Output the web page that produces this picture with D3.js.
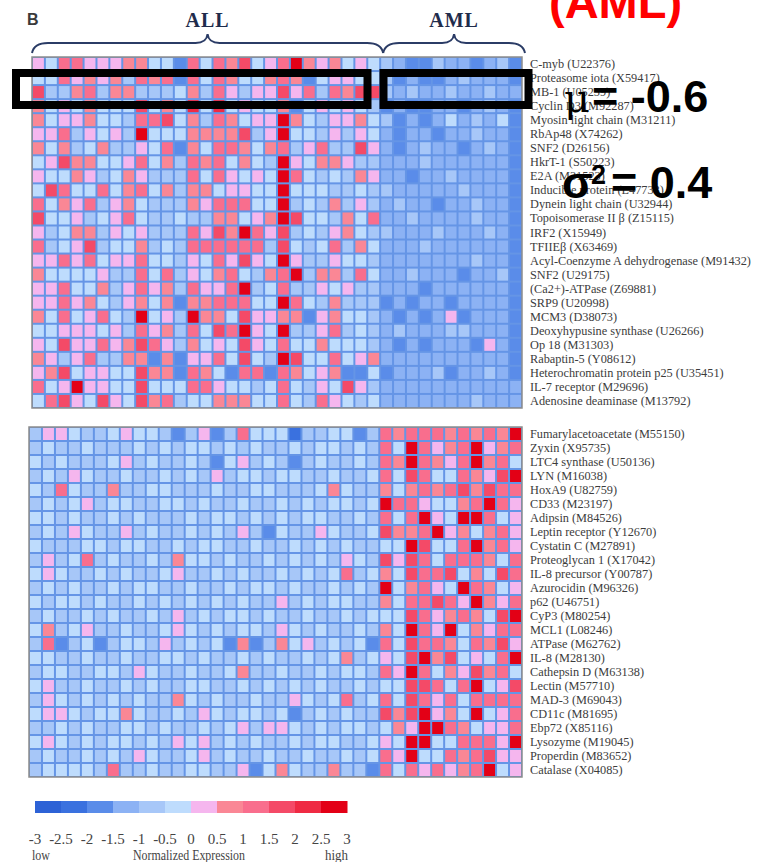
<!DOCTYPE html>
<html><head><meta charset="utf-8">
<script src="https://cdn.jsdelivr.net/npm/d3@7"></script>
<style>body{margin:0;background:#fff}svg{display:block}</style>
</head><body>
<script>
// ---------- DATA ----------
const groupNames = ["ALL", "AML"];
const groupSizes = [27, 11];

const topGenes = ["C-myb (U22376)","Proteasome iota (X59417)","MB-1 (U05259)","Cyclin D3 (M92287)","Myosin light chain (M31211)","RbAp48 (X74262)","SNF2 (D26156)","HkrT-1 (S50223)","E2A (M31523)","Inducible protein (L47738)","Dynein light chain (U32944)","Topoisomerase II \u03B2 (Z15115)","IRF2 (X15949)","TFIIE\u03B2 (X63469)","Acyl-Coenzyme A dehydrogenase (M91432)","SNF2 (U29175)","(Ca2+)-ATPase (Z69881)","SRP9 (U20998)","MCM3 (D38073)","Deoxyhypusine synthase (U26266)","Op 18 (M31303)","Rabaptin-5 (Y08612)","Heterochromatin protein p25 (U35451)","IL-7 receptor (M29696)","Adenosine deaminase (M13792)"];

const bottomGenes = ["Fumarylacetoacetate (M55150)","Zyxin (X95735)","LTC4 synthase (U50136)","LYN (M16038)","HoxA9 (U82759)","CD33 (M23197)","Adipsin (M84526)","Leptin receptor (Y12670)","Cystatin C (M27891)","Proteoglycan 1 (X17042)","IL-8 precursor (Y00787)","Azurocidin (M96326)","p62 (U46751)","CyP3 (M80254)","MCL1 (L08246)","ATPase (M62762)","IL-8 (M28130)","Cathepsin D (M63138)","Lectin (M57710)","MAD-3 (M69043)","CD11c (M81695)","Ebp72 (X85116)","Lysozyme (M19045)","Properdin (M83652)","Catalase (X04085)"];

const topValues = [
[0.3,-0.3,1.3,1.3,0.3,0.3,0.3,0.8,0.8,-0.3,-0.3,-1.8,1.3,-0.3,1.3,0.8,1.8,-0.3,0.3,1.3,2.8,0.8,0.3,0.8,-0.3,0.3,-0.3,-0.8,-1.2,-1.8,-1.8,-0.8,-1.2,-1.2,-1.8,-1.2,-0.8,-1.8],
[-0.3,-0.3,1.3,0.3,0.8,0.3,0.8,-0.8,1.3,0.8,1.3,-1.8,1.3,-0.3,1.3,0.8,-0.3,-0.3,0.8,1.3,0.8,-1.8,-0.3,0.3,0.3,-0.3,-0.3,-0.8,-1.8,-1.2,-1.8,-1.8,-1.2,-0.8,-1.2,-1.2,-1.2,-1.8],
[1.8,-0.8,-0.8,0.8,1.3,-0.8,0.8,0.8,-0.8,-0.8,-0.8,-0.3,0.8,-0.8,1.3,0.3,-0.8,0.3,0.3,1.8,0.3,1.3,-0.8,1.3,0.8,1.8,1.8,-0.8,-1.2,-0.8,-1.2,-1.2,-0.8,-1.2,-1.2,-0.8,-1.2,-1.2],
[0.8,-0.3,0.3,-0.3,0.8,-0.3,-0.3,-0.3,1.8,-0.3,0.8,-0.3,2.3,-0.3,2.3,-0.3,0.3,-0.3,-0.3,0.8,-1.8,-0.3,0.3,-0.3,0.3,-0.3,-0.8,-1.8,-1.2,-1.8,-1.8,-1.2,-1.2,-1.8,-1.2,-0.8,-1.2,-1.8],
[0.8,-0.3,0.3,0.3,0.8,-0.3,-0.3,-0.8,1.3,1.3,1.8,-0.3,0.8,-0.8,1.3,0.8,-0.3,0.3,0.3,2.8,0.8,-0.3,-0.8,0.3,0.3,0.8,-0.3,-0.8,-1.8,-1.2,-1.8,-1.2,-0.3,-1.2,-0.8,-1.2,-0.3,-1.8],
[0.3,0.3,1.3,-0.8,0.3,-0.3,0.3,-0.8,2.8,-0.3,-0.3,-0.3,0.8,0.8,0.8,0.8,1.8,-0.8,0.3,2.8,-0.3,-0.3,-0.8,0.3,-0.8,0.3,-0.3,-1.2,-1.8,-1.2,-1.2,-1.8,-1.2,-1.2,-0.8,-1.2,-1.2,-1.8],
[0.8,-0.3,0.8,-0.8,-0.3,0.8,-0.8,-0.8,0.3,-0.3,1.3,-1.8,0.8,-0.3,1.3,1.3,0.8,-0.3,0.8,1.3,-0.8,0.3,1.3,-0.8,-0.8,1.8,0.3,-1.2,-1.8,-1.2,-0.8,-1.2,-1.2,-1.8,-1.2,-0.8,-1.2,-1.8],
[-0.3,0.3,1.8,0.8,0.8,-0.3,-0.3,0.3,1.3,-0.3,0.8,-0.8,1.3,0.8,1.3,-0.3,0.8,-0.3,-0.8,2.8,0.3,-0.3,0.8,0.8,0.3,-0.8,-0.8,-1.2,-1.2,-1.2,-0.8,-1.2,-1.2,-1.2,-1.2,-1.2,-1.2,-1.8],
[0.3,-0.3,-0.3,0.8,0.3,-0.8,-0.3,0.8,0.3,-0.8,-0.8,-0.8,1.3,-0.3,1.3,0.3,-0.3,0.3,-0.3,2.8,1.3,-0.3,-0.8,-0.3,-0.8,0.8,0.3,-1.2,-1.2,-1.8,-1.2,-1.2,-0.8,-1.2,-1.2,-1.2,-1.2,-1.8],
[-0.3,1.8,1.3,-0.3,-0.3,1.3,-0.3,0.8,1.3,-0.3,0.8,-0.8,0.8,0.8,-0.3,0.3,0.3,-0.3,-0.3,2.8,-0.3,-0.3,-0.3,-0.8,-0.8,-0.3,-0.8,-0.8,-1.2,-1.2,-1.2,-1.2,-1.2,-0.8,-1.2,-1.2,-1.2,-1.8],
[1.3,-0.3,0.8,0.3,1.3,-0.8,0.3,0.8,-0.3,-0.8,-0.8,-0.8,0.8,0.3,1.3,1.3,1.3,-0.3,-0.3,2.8,-0.8,-0.3,-0.8,0.8,-0.8,0.3,-0.8,-1.2,-0.8,-1.2,-1.2,-1.8,-1.2,-1.2,-0.8,-1.2,-1.2,-1.8],
[1.8,-0.3,-0.3,0.3,-0.8,-0.3,0.3,1.3,-0.3,-0.8,-0.8,-0.3,-0.8,-0.8,0.8,0.8,-0.3,0.3,0.8,2.8,1.8,-0.3,-0.3,-0.8,0.8,-0.3,1.3,-1.2,-1.2,-0.8,-1.2,-1.2,-1.2,-1.2,-0.8,-1.2,-1.2,-1.8],
[0.3,-0.8,-0.3,0.8,0.8,-0.8,0.3,-0.3,0.3,-0.8,-0.8,-0.8,1.3,0.3,1.8,0.8,2.8,1.3,0.3,1.8,-0.8,-0.3,-0.8,0.3,0.8,-0.3,-0.8,-0.8,-1.2,-1.2,-1.2,-0.8,-1.2,-1.2,-1.2,-0.8,-1.2,-1.8],
[1.3,-0.8,-0.3,0.3,1.8,-0.8,-0.3,-0.3,0.8,-0.8,-0.3,-0.8,1.3,1.3,1.3,1.3,1.3,1.3,-0.8,1.8,-0.3,-0.8,-0.3,1.3,-0.8,0.8,-0.3,-1.2,-1.2,-1.2,-0.8,-1.2,-1.2,-1.2,-1.2,-1.2,-1.2,-1.8],
[0.3,0.3,1.3,0.3,1.3,-0.3,0.3,0.3,1.3,-0.3,-0.3,-0.8,0.3,-0.3,1.3,0.3,1.8,0.3,-0.3,2.8,0.3,-0.8,-0.8,0.3,-0.3,-0.3,-0.8,-1.2,-1.2,-1.2,-1.2,-1.2,-1.2,-1.2,-0.8,-1.2,-1.2,-1.8],
[0.8,-0.3,-0.3,-0.3,-0.3,0.3,-0.8,-0.8,1.3,-0.3,1.3,-0.8,0.3,-0.3,0.8,1.3,-0.3,-0.8,0.8,1.3,2.8,-0.8,0.8,0.8,-0.8,1.3,-0.3,-1.2,-1.2,-0.8,-1.2,-1.2,-1.2,-1.8,-1.2,-1.2,-0.8,-1.8],
[0.3,0.3,1.3,-0.3,-0.3,0.8,-0.8,0.3,1.3,0.3,0.8,-0.8,1.3,0.3,0.3,1.3,2.8,-0.8,-0.3,1.3,-0.8,-0.8,0.3,-0.3,0.3,-0.8,-0.8,-1.2,-1.2,-1.2,-1.8,-1.2,-1.2,-1.2,-1.2,-1.2,-1.2,-1.8],
[0.3,0.3,1.3,0.3,0.8,-0.3,-0.8,0.3,0.8,-0.3,0.8,-1.8,0.8,0.8,1.3,1.3,1.3,-0.3,-0.3,2.8,1.3,-0.3,-0.8,0.8,-0.8,-0.8,-0.8,-1.8,-1.2,-1.8,-1.2,-1.2,-1.8,-1.2,-1.2,-1.2,-1.2,-1.8],
[0.8,-0.3,1.3,-0.3,0.3,1.3,-0.3,-0.8,2.8,-0.3,0.3,-0.8,2.8,0.8,0.8,-0.3,1.8,0.3,0.3,0.8,0.8,-1.8,0.3,0.8,-0.3,-0.3,-0.8,-1.2,-1.8,-1.2,-1.8,-1.2,0.3,-1.8,-1.2,-1.2,-1.2,-1.8],
[-0.3,-0.3,0.3,0.3,0.3,-0.3,0.3,-0.8,1.3,0.3,0.8,-0.8,1.3,-0.3,1.8,1.3,2.8,0.3,-0.3,2.8,-0.8,-0.8,0.3,1.3,-0.8,-0.3,-0.8,-1.2,-0.8,-1.2,-1.2,-1.2,-0.8,-0.8,-1.2,-1.2,-1.2,-1.8],
[0.3,-0.3,1.8,0.3,0.3,1.3,0.3,0.8,1.8,1.3,0.3,-0.8,0.8,-0.3,0.3,-0.3,1.8,0.3,-0.3,1.3,-0.3,-0.3,0.8,-0.3,-0.3,-0.3,-0.8,-1.2,-1.8,-1.2,-1.8,-1.2,-1.2,-1.2,-1.8,0.3,-1.2,-1.8],
[0.8,0.3,-0.8,0.3,1.3,-0.8,-0.8,0.8,0.8,-1.8,0.8,-1.8,0.3,0.3,1.3,-0.3,1.8,-0.3,-0.8,2.8,1.8,-0.3,-0.3,1.3,-0.3,0.3,0.8,-1.2,-1.2,-1.2,-1.2,-1.2,-1.2,-1.2,-1.2,-1.2,-1.2,-1.8],
[0.3,0.8,1.8,-0.3,0.3,0.3,-0.3,-0.3,1.8,0.8,0.8,-1.8,1.3,0.8,-0.3,-1.8,1.3,1.3,-1.8,1.3,0.8,-0.3,0.3,0.8,-1.8,-1.8,-0.3,-1.8,-1.2,-1.2,-1.2,-0.8,-1.8,-1.2,-1.2,-0.8,-1.2,-1.8],
[1.3,-0.3,0.3,2.8,0.3,0.3,-0.3,-0.3,1.8,-0.3,-0.3,-0.3,1.3,1.3,0.3,-0.3,-0.3,-0.8,-0.3,1.3,-0.3,-0.8,0.3,-0.3,1.8,0.3,-0.8,-1.2,-1.2,-1.2,-1.2,-1.2,-1.2,-1.2,-1.2,-1.2,-1.2,-1.2],
[-0.3,1.3,1.8,0.3,-0.3,1.8,0.3,-0.3,1.8,0.8,1.3,-0.8,-0.3,-0.3,0.8,0.8,0.8,-0.3,-0.3,1.3,-0.3,-0.8,1.3,0.3,-0.3,-0.8,-0.3,-1.2,-1.2,-1.2,-1.2,-1.2,-1.2,-1.2,-0.8,-1.2,-1.2,-1.2]
];

const bottomValues = [
[-0.8,0.3,0.3,-0.3,-0.8,-0.8,-0.3,0.3,-0.3,-0.3,-0.8,-1.8,-0.8,0.3,-1.8,-0.8,1.3,-0.3,-0.3,-0.3,-2.3,-0.8,-0.8,-0.3,-0.3,-1.8,-0.8,1.3,0.8,1.3,1.3,1.3,0.8,1.3,0.8,1.3,0.8,2.8],
[-0.8,-0.3,-0.8,-0.8,-0.3,-0.8,-0.8,-0.8,-0.3,-0.8,-0.3,-0.8,-0.3,-0.3,-0.8,-0.3,-0.8,-0.3,-0.8,-0.8,-0.3,-0.8,-0.3,-0.3,-0.8,-0.3,-0.8,1.3,-0.3,2.8,1.3,0.3,0.8,1.3,2.8,0.3,0.8,1.3],
[-0.3,-0.8,-0.3,-0.8,-0.8,-0.8,-0.3,0.3,-0.8,-0.3,-0.8,-0.8,-0.3,-0.8,-1.8,-0.3,0.3,-0.8,-0.3,-0.8,-1.8,-0.8,-0.3,-0.8,-0.8,-0.3,-0.8,1.3,0.8,2.8,1.3,0.8,0.3,1.3,2.8,0.8,1.3,-0.3],
[-0.8,-0.3,-0.8,0.3,-0.3,-0.8,-0.8,-0.3,-0.8,-0.8,-0.3,-0.8,-0.3,-0.8,0.3,-0.8,-0.3,-0.3,-0.8,-0.3,-0.3,-0.8,-0.8,-0.3,-0.8,-0.8,-0.3,1.3,-0.3,1.8,1.3,-0.3,-0.3,1.3,0.8,0.3,1.8,2.8],
[-0.3,-0.8,1.3,-0.3,-0.8,-0.8,0.8,-0.8,-0.8,-0.3,-0.3,-0.8,-0.8,-0.8,-0.3,-0.8,-0.8,-0.3,-0.3,-0.8,-0.8,-0.8,-0.3,0.8,-0.3,-0.8,-0.8,0.8,-0.3,0.8,1.3,0.8,1.3,1.8,0.8,1.8,1.3,1.3],
[-0.8,-0.3,-0.8,-0.3,0.3,-0.8,-0.3,-0.3,-0.8,-0.8,-0.3,-0.3,-0.8,-0.3,-0.8,-0.8,-0.3,-0.8,-0.8,-0.3,-0.8,-0.3,-0.8,-0.3,-0.3,-0.8,-0.3,2.8,1.3,1.3,0.3,-0.3,-0.3,0.8,1.3,2.8,1.3,0.3],
[-0.3,-0.3,-0.8,-0.3,-0.8,-0.8,-0.3,-0.8,-0.3,-0.8,-0.8,-0.8,-0.3,-0.8,-0.3,-0.3,-0.8,-0.3,-0.8,-0.3,-0.8,-0.3,-0.3,-0.8,-0.8,-0.3,-0.8,1.3,-0.3,1.3,2.8,0.3,-0.3,2.8,2.8,1.3,-0.3,0.3],
[-0.8,-0.3,-0.8,0.3,-0.3,-0.8,-0.8,0.3,-0.8,-0.3,-0.8,-0.8,-0.3,-0.8,-0.3,-0.8,0.3,-0.8,-1.8,-0.3,-0.8,-0.8,0.3,-0.3,-0.8,-0.8,-0.3,1.8,0.8,0.8,1.3,2.8,0.3,0.8,-0.3,0.8,1.3,0.3],
[-0.3,-0.8,-0.8,-0.8,-0.3,-0.3,-0.8,-0.3,-0.3,-0.8,-0.8,-0.3,-0.8,-0.3,-0.3,-0.8,-0.8,-0.3,-0.8,-0.8,-0.3,-0.8,-0.3,-0.8,-0.3,-0.8,-0.8,-0.3,-0.3,2.8,1.8,-0.3,-0.3,1.3,2.8,0.8,1.3,0.3],
[-0.8,0.3,-0.8,-0.3,1.3,-0.8,-0.3,-0.8,-0.8,-0.3,-0.8,0.8,-0.3,-0.3,-0.8,-0.3,-0.8,-0.8,-0.3,-0.8,-0.3,-0.8,-0.3,-0.8,0.3,-0.3,-0.8,1.8,0.3,1.8,1.3,-0.3,1.3,1.3,1.3,0.8,-0.3,1.3],
[-0.3,0.3,-0.3,-0.8,-0.8,-0.3,-0.8,-0.3,-0.8,-0.8,-0.3,0.3,-0.8,-0.8,-0.3,-0.8,-0.3,-0.8,-0.8,-0.3,-0.8,-0.3,-0.8,-0.3,1.3,-0.8,-0.3,0.8,-0.3,1.8,1.3,1.3,1.8,-0.3,0.8,-0.3,1.8,1.3],
[-0.8,-0.3,-0.8,-0.3,-0.8,-0.8,-0.3,-0.8,-0.3,-0.3,-0.8,-0.8,-0.3,-0.8,-0.8,-0.3,-0.8,-0.3,-0.3,-0.8,-0.3,-0.8,-0.8,-0.3,-0.8,-0.3,-0.8,2.8,-0.3,0.8,1.3,0.3,-0.3,2.8,1.3,0.8,-0.3,0.3],
[-0.3,-0.8,-0.3,-0.3,-0.8,-0.3,-0.8,-0.8,-0.3,-0.8,-0.3,-0.8,-0.3,-0.8,-0.3,-0.8,-0.3,-0.8,-0.8,0.3,-0.8,-0.3,-0.8,-0.3,-0.3,-0.8,-0.8,0.8,-0.3,1.3,1.3,1.8,1.3,0.3,2.8,0.8,0.3,1.3],
[-0.8,-0.3,-0.8,-0.8,-0.3,-0.8,-0.3,-0.8,-0.8,-0.3,-0.8,0.3,-0.8,-0.3,-0.8,-0.3,-0.3,-0.8,-0.3,-0.8,-0.8,-0.3,-0.8,-0.8,-0.3,-0.8,-0.3,-0.3,-0.3,1.8,1.3,0.3,0.8,1.3,0.8,-0.3,1.8,2.8],
[-0.3,0.8,-0.8,-0.3,0.3,-0.8,-0.8,-0.3,-0.8,-0.8,-0.3,0.3,-0.3,-0.8,-0.3,-0.8,-0.3,-0.3,-0.8,0.3,-0.3,-0.8,-0.3,-0.8,-0.8,-0.3,-0.8,0.8,-0.3,2.8,1.3,0.3,2.8,-0.3,0.8,0.3,1.3,1.3],
[-0.8,1.3,-1.8,-0.8,-0.3,-1.8,-0.8,-0.3,-0.3,-0.8,0.3,-0.8,-0.3,-0.8,-0.3,-1.8,0.8,-1.8,-0.8,0.8,-0.3,0.3,-0.8,-0.3,-0.8,-0.3,-1.8,1.3,-0.3,1.8,1.3,1.3,0.8,-0.3,1.3,0.8,1.8,0.3],
[-0.3,-0.3,-0.8,-0.8,-0.3,-0.8,-0.8,-0.3,-0.8,-0.8,-0.3,-0.3,-0.8,-0.3,-0.8,-0.8,-0.3,-0.8,-0.3,-0.8,-0.8,-0.3,-0.8,-0.3,0.8,-0.8,-0.3,0.3,-0.3,1.8,2.8,0.8,1.8,-0.3,0.3,-0.3,1.3,2.8],
[-0.8,-0.3,-0.3,-0.8,-0.8,-0.3,-0.3,-0.8,0.3,-0.3,-0.8,-0.8,-0.3,-0.8,-0.8,-0.3,0.8,-0.8,-0.8,-0.3,-0.8,-0.8,-0.3,-0.8,-0.3,-0.3,-0.8,1.3,0.3,2.8,1.3,-0.3,0.8,0.3,1.8,0.8,1.3,-0.3],
[-0.3,0.3,-0.8,-0.8,-0.3,-0.8,-0.8,-0.3,-0.8,-0.3,-0.8,-0.8,-0.3,-0.3,-0.8,-0.8,-0.3,-0.8,-0.3,-0.8,-0.3,-0.8,-0.3,-0.8,-0.8,-0.3,-0.8,-0.3,-0.3,1.8,1.8,1.3,-0.3,1.3,2.8,-0.3,0.3,1.8],
[-0.8,0.3,-0.3,-0.8,-0.3,-0.8,-0.3,-0.8,-0.3,-0.8,-0.8,0.8,-0.3,-0.8,-0.3,-0.8,-0.8,-0.3,-0.8,-0.8,0.3,-0.3,-0.8,-0.3,1.3,-0.8,-0.3,1.3,-0.3,1.8,1.3,0.3,1.3,-0.3,1.3,1.3,1.3,1.3],
[-0.3,0.3,0.3,-0.3,-0.8,-0.3,-0.3,0.8,-0.3,-0.8,-0.8,-0.3,-0.8,0.3,-0.3,-0.8,-0.3,-0.3,-0.8,-0.3,-1.8,-0.8,-0.3,-0.8,-0.3,-0.8,-0.8,1.8,0.8,1.8,2.8,0.3,0.8,-0.3,2.8,-0.3,0.3,1.3],
[-0.8,-0.8,-0.3,-0.8,-0.3,-0.8,-0.8,-0.3,-0.3,-0.8,-0.3,-0.8,-0.8,-0.3,-0.8,-0.3,0.3,-0.8,0.3,0.3,-0.3,-0.8,-0.3,-0.8,-0.3,-0.3,-0.8,-0.3,0.8,0.3,2.8,2.8,1.3,0.8,-0.3,0.3,0.3,1.3],
[-0.3,0.3,-0.3,-0.8,-0.3,-0.8,-0.3,-0.3,-0.8,-0.3,-0.8,0.3,-0.3,0.3,-0.8,-0.3,-0.8,-0.3,-0.8,-0.8,-0.3,-0.8,-0.3,-0.3,-0.8,-0.8,-0.3,0.3,-0.3,2.8,2.8,-0.3,-0.3,1.3,1.3,1.3,0.3,2.8],
[-0.8,-0.3,-0.8,-0.8,-0.3,-0.8,-0.3,-0.8,0.3,-0.3,-0.8,-0.8,-0.3,0.3,-0.8,-0.3,-0.8,-0.8,-0.3,-0.8,-0.8,-0.3,-0.8,-0.8,-0.3,-0.8,-0.3,1.3,0.3,2.8,-0.3,-0.3,1.3,0.8,1.3,1.8,0.3,0.3],
[-0.8,-0.3,-0.3,-0.3,-0.3,-0.8,1.3,-0.8,-0.8,-0.3,-0.8,-0.8,-0.3,-0.3,-0.8,-0.8,0.3,-1.8,-0.3,0.8,-0.3,-0.8,-0.8,0.8,-0.8,-0.8,-1.8,1.3,-0.3,1.3,0.3,1.3,0.3,0.8,1.3,2.8,-0.3,0.3]
];

const legendTicks = [-3,-2.5,-2,-1.5,-1,-0.5,0,0.5,1,1.5,2,2.5,3];
const legendTickLabels = ["-3","-2.5","-2","-1.5","-1","-0.5","0","0.5","1","1.5","2","2.5","3"];
const binColors = ["#2d62d6","#3a71df","#5a8ce9","#8cb2f4","#a7c7f8","#bedcfd","#f5b6ee","#fa8795","#f96e8d","#f44a67","#ef2a43","#e30016"];
const legendTitle = "Normalized Expression";
const legendLow = "low", legendHigh = "high";
const panelLetter = "B";
const annMean = "= -0.6", annVar = "= 0.4", annTop = "(AML)";

// ---------- LAYOUT ----------
const W = 771, H = 862;
const nCols = d3.sum(groupSizes);
const svg = d3.select("body").append("svg").attr("width", W).attr("height", H);

const color = d3.scaleThreshold().domain(legendTicks.slice(1, -1)).range(binColors);

function panel(values, genes, x0, x1, y0, y1) {
  const x = d3.scaleBand().domain(d3.range(nCols)).range([x0, x1]).padding(0);
  const y = d3.scaleBand().domain(d3.range(genes.length)).range([y0, y1]).padding(0);
  const g = svg.append("g");
  g.append("rect").attr("x", x0).attr("y", y0).attr("width", x1 - x0).attr("height", y1 - y0)
    .attr("fill", "#6595e6");
  values.forEach((row, r) => {
    g.selectAll(null).data(row).enter().append("rect")
      .attr("x", (d, c) => x(c) + 1)
      .attr("y", y(r) + 1)
      .attr("width", x.bandwidth() - 2)
      .attr("height", y.bandwidth() - 2)
      .attr("fill", d => color(d));
  });
  g.append("rect").attr("x", x0).attr("y", y0).attr("width", x1 - x0).attr("height", y1 - y0)
    .attr("fill", "none").attr("stroke", "#8c8c8c").attr("stroke-width", 1.5);
  g.selectAll("text.gene").data(genes).enter().append("text").attr("class", "gene")
    .attr("x", 530).attr("y", (d, i) => y(i) + y.bandwidth() / 2 + 4)
    .attr("font-family", "Liberation Serif, Times New Roman, serif")
    .attr("font-size", 12.3).attr("fill", "#3c3c3c").text(d => d);
  return { x, y };
}

const topPanel = panel(topValues, topGenes, 32, 522, 57, 408);
panel(bottomValues, bottomGenes, 29, 522, 427, 777);

// braces + group labels
const starts = [0, groupSizes[0]];
groupNames.forEach((name, i) => {
  const a = topPanel.x(starts[i]) + (i === 0 ? 0 : 3);
  const b = i === 0 ? topPanel.x(groupSizes[0]) + 3 : 525;
  const m = (a + b) / 2;
  const yb = 53, yh = 43, yt = 34;
  const p = `M${a},${yb} Q${a + 2},${yh} ${a + 16},${yh} L${m - 12},${yh} Q${m - 1},${yh} ${m},${yt} Q${m + 1},${yh} ${m + 12},${yh} L${b - 16},${yh} Q${b - 2},${yh} ${b},${yb}`;
  svg.append("path").attr("d", p).attr("fill", "none").attr("stroke", "#2b3c66").attr("stroke-width", 2);
  svg.append("text").attr("x", m).attr("y", 27).attr("text-anchor", "middle")
    .attr("font-family", "Liberation Serif, serif").attr("font-weight", "bold")
    .attr("font-size", 20).attr("letter-spacing", 1).attr("fill", "#1f2c4c").text(name);
});

svg.append("text").attr("x", 27).attr("y", 24.5).attr("font-family", "Liberation Sans, Arial, sans-serif")
  .attr("font-weight", "bold").attr("font-size", 16).attr("fill", "#3a3a3a").text(panelLetter);

// legend
const lx = d3.scaleLinear().domain([-3, 3]).range([35, 347]);
svg.selectAll("rect.bin").data(binColors).enter().append("rect").attr("class", "bin")
  .attr("x", (d, i) => lx(legendTicks[i])).attr("y", 801)
  .attr("width", (d, i) => lx(legendTicks[i + 1]) - lx(legendTicks[i]) + 0.5).attr("height", 12)
  .attr("fill", d => d);
svg.selectAll("text.tick").data(legendTicks).enter().append("text").attr("class", "tick")
  .attr("x", d => lx(d)).attr("y", 844).attr("text-anchor", "middle")
  .attr("font-family", "Liberation Serif, serif").attr("font-size", 15).attr("fill", "#444")
  .text((d, i) => legendTickLabels[i]);
const lf = s => s.attr("font-family", "Liberation Serif, serif").attr("font-size", 15).attr("fill", "#444");
lf(svg.append("text").attr("x", 32).attr("y", 860).attr("textLength", 18).attr("lengthAdjust", "spacingAndGlyphs").text(legendLow));
lf(svg.append("text").attr("x", 133).attr("y", 860).attr("textLength", 112).attr("lengthAdjust", "spacingAndGlyphs").text(legendTitle));
lf(svg.append("text").attr("x", 325).attr("y", 860).attr("textLength", 23).attr("lengthAdjust", "spacingAndGlyphs").text(legendHigh));

// annotations
const ann = svg.append("g");
ann.append("rect").attr("x", 16).attr("y", 73).attr("width", 351.5).attr("height", 32)
  .attr("fill", "none").attr("stroke", "#000").attr("stroke-width", 8);
ann.append("rect").attr("x", 383.5).attr("y", 73).attr("width", 145).attr("height", 32)
  .attr("fill", "none").attr("stroke", "#000").attr("stroke-width", 8);

ann.append("text").attr("x", 549).attr("y", 18).attr("font-family", "Liberation Sans, Arial, sans-serif")
  .attr("font-weight", "bold").attr("font-size", 47).attr("fill", "#ff0000").text(annTop);

const t1 = ann.append("text").attr("y", 112).attr("font-size", 45).attr("fill", "#000");
t1.append("tspan").attr("x", 564).attr("font-family", "DejaVu Serif, serif").attr("font-size", 40).text("\u03BC");
t1.append("tspan").attr("x", 592).attr("font-family", "Liberation Sans, Arial, sans-serif").attr("font-weight", "bold").text(annMean);

const t2 = ann.append("text").attr("y", 198).attr("font-size", 45).attr("fill", "#000")
  .attr("font-family", "Liberation Sans, Arial, sans-serif").attr("font-weight", "bold");
t2.append("tspan").attr("x", 562).text("\u03C3");
t2.append("tspan").attr("x", 591).attr("y", 184).attr("font-size", 27).text("2");
t2.append("tspan").attr("x", 611).attr("y", 198).text(annVar);
</script>
</body></html>
